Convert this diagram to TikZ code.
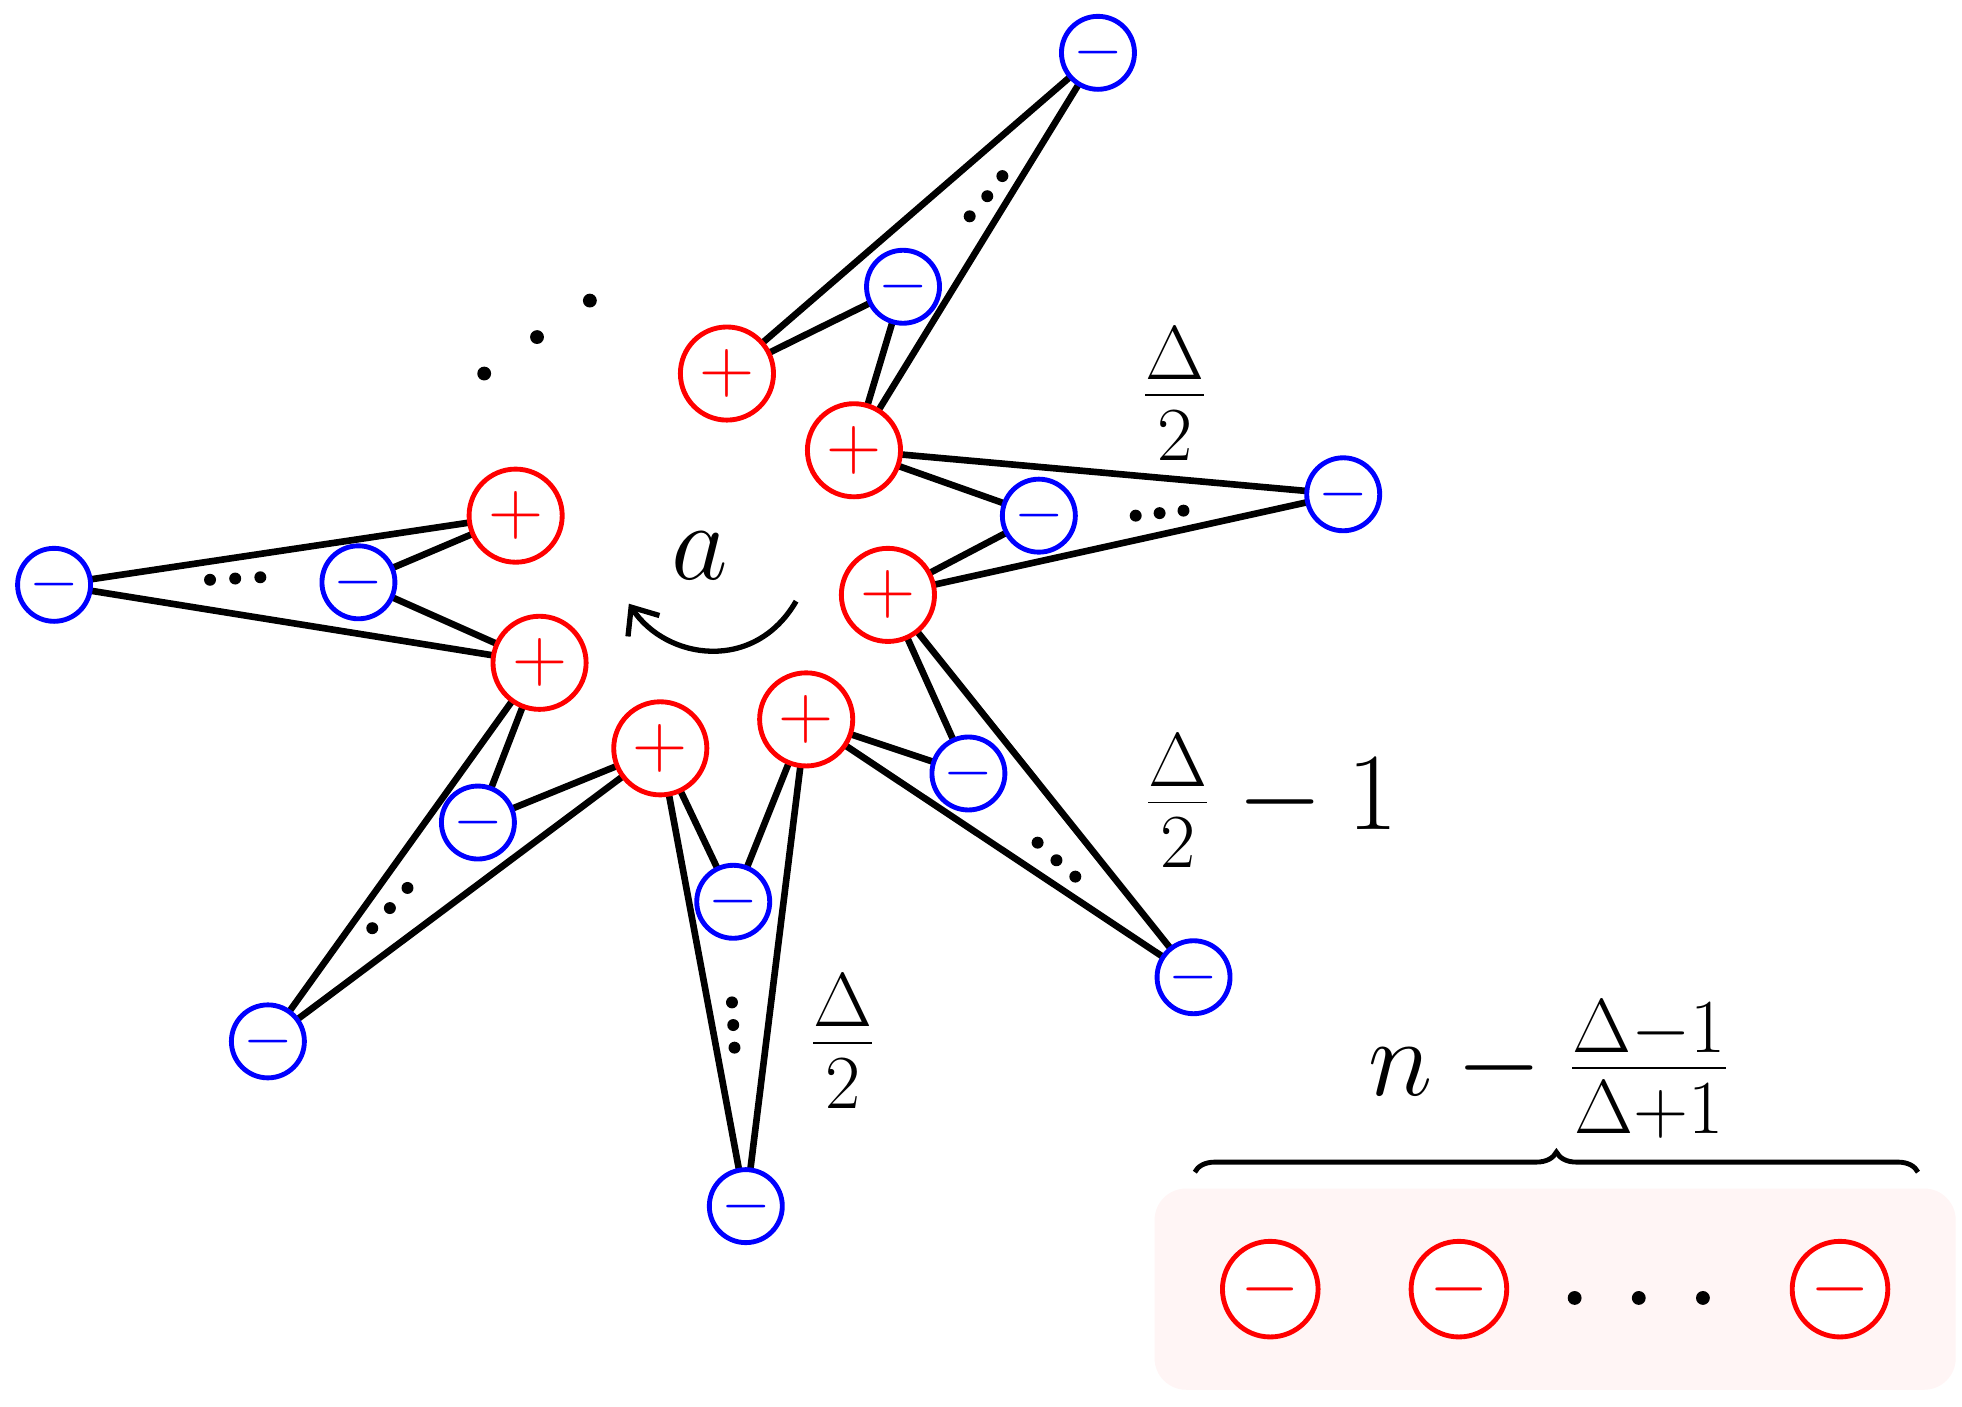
\documentclass[tikz,border=0pt]{standalone}
\usetikzlibrary{decorations.pathreplacing,arrows.meta}
\begin{document}
\begin{tikzpicture}[x=0.01cm,y=-0.01cm,
  pl/.style={circle,draw=red,line width=1.1pt,fill=white,minimum size=0.74cm,inner sep=0pt,text=red,font=\fontsize{16}{16}\selectfont},
  mi/.style={circle,draw=blue,line width=1.1pt,fill=white,minimum size=0.58cm,inner sep=0pt,text=blue,font=\fontsize{14}{14}\selectfont},
  mr/.style={circle,draw=red,line width=1.1pt,fill=white,minimum size=0.76cm,inner sep=0pt,text=red,font=\fontsize{18}{18}\selectfont},
  ed/.style={line width=1.5pt},
  dt/.style={circle,fill=black,inner sep=0pt,minimum size=0.11cm},
  lab/.style={font=\fontsize{25}{30}\selectfont}]
\useasboundingbox (0,0) rectangle (1560,1118);
\fill[red!4,rounded corners=0.25cm] (918,945) rectangle (1555,1105);
\foreach \x/\y [count=\i] in {385/297,427/268,469/239,1252/1032,1303/1032,1354/1032}
  \node[dt] (e\i) at (\x,\y) {};
\foreach \x/\y [count=\i] in {771/172,785/156,797/140, 903/410,922/408,941/406, 825/670,840/684,855/697, 582/797,583/815,584/833, 296/738,310/722,324/706, 167/461,187/460,207/459}
  \node[dt,minimum size=0.095cm] (d\i) at (\x,\y) {};
\coordinate (P1) at (578,297); \coordinate (P2) at (679,358); \coordinate (P3) at (706,473);
\coordinate (P4) at (641,572); \coordinate (P5) at (525,595); \coordinate (P6) at (429,527); \coordinate (P7) at (410,410);
\coordinate (M1) at (873,42); \coordinate (M2) at (718,228); \coordinate (M3) at (1068,393); \coordinate (M4) at (826,410);
\coordinate (M5) at (949,777); \coordinate (M6) at (770,615); \coordinate (M7) at (593,959); \coordinate (M8) at (583,717);
\coordinate (M9) at (213,828); \coordinate (M10) at (380,654); \coordinate (M11) at (43,465); \coordinate (M12) at (285,463);
\foreach \a/\b/\c/\d in {P1/P2/M1/M2,P2/P3/M3/M4,P3/P4/M5/M6,P4/P5/M7/M8,P5/P6/M9/M10,P6/P7/M11/M12}
  \draw[ed] (\a)--(\c) (\a)--(\d) (\b)--(\c) (\b)--(\d);
\foreach \n in {1,...,7} \node[pl] (p\n) at (P\n) {$+$};
\foreach \n in {1,...,12} \node[mi] (m\n) at (M\n) {$-$};
\node[mr] (r1) at (1010,1025) {$-$};
\node[mr] (r2) at (1160,1025) {$-$};
\node[mr] (r3) at (1463,1025) {$-$};
\coordinate (a1) at (633,478); \coordinate (a2) at (500,480);
\draw[line width=1.2pt,-{Straight Barb[length=0.18cm,width=0.3cm]}] (a1) .. controls (600,535) and (530,525) .. (a2);
\node[font=\fontsize{30}{30}\selectfont] (la) at (556,442) {$a$};
\node[lab] (l1) at (934,313) {$\frac{\Delta}{2}$};
\node[lab] (l2) at (1010,637) {$\frac{\Delta}{2}-1$};
\node[lab] (l3) at (670,828) {$\frac{\Delta}{2}$};
\node[lab] (l4) at (1232,850) {$n-\frac{\Delta-1}{\Delta+1}$};
\coordinate (b1) at (950,932); \coordinate (b2) at (1525,932);
\draw[line width=1.1pt,decorate,decoration={brace,amplitude=0.16cm}] (b1)--(b2);
\end{tikzpicture}
\end{document}
